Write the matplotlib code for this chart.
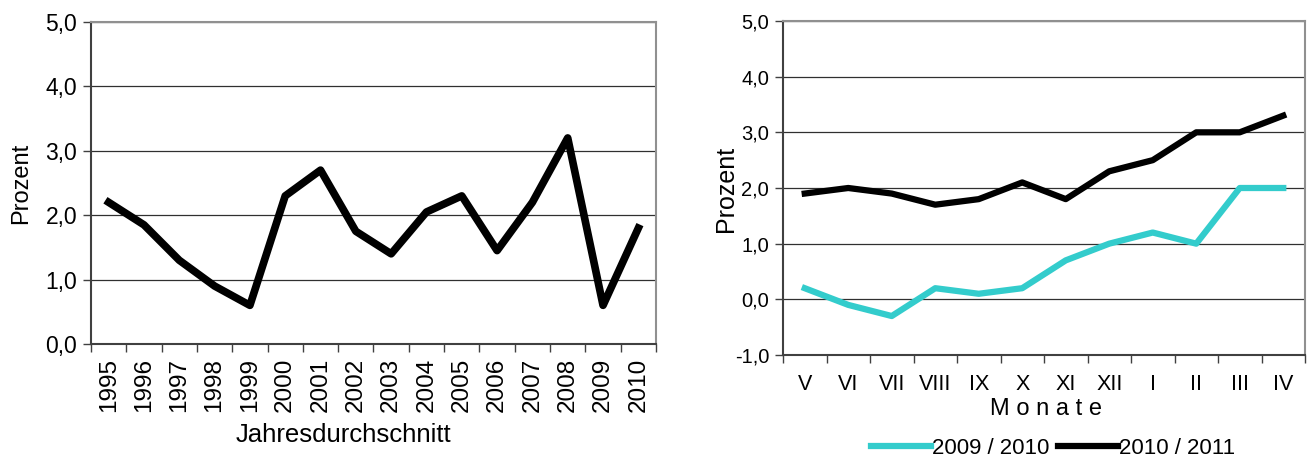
import numpy as np
import matplotlib
matplotlib.use("Agg")
from matplotlib import pyplot as plt

plt.rcParams['font.family'] = ['Liberation Sans', 'DejaVu Sans']

# Daten links: Jahresdurchschnitt
jahre = ['1995', '1996', '1997', '1998', '1999', '2000', '2001', '2002',
         '2003', '2004', '2005', '2006', '2007', '2008', '2009', '2010']
jahreswerte = [2.2, 1.85, 1.3, 0.9, 0.6, 2.3, 2.7, 1.75,
               1.4, 2.05, 2.3, 1.45, 2.2, 3.2, 0.6, 1.8]

# Daten rechts: Monate
monate = ['V', 'VI', 'VII', 'VIII', 'IX', 'X', 'XI', 'XII', 'I', 'II', 'III', 'IV']
werte_0910 = [0.2, -0.1, -0.3, 0.2, 0.1, 0.2, 0.7, 1.0, 1.2, 1.0, 2.0, 2.0]
werte_1011 = [1.9, 2.0, 1.9, 1.7, 1.8, 2.1, 1.8, 2.3, 2.5, 3.0, 3.0, 3.3]
serien = ['2009 / 2010', '2010 / 2011']

W, H = 1308, 459
fig = plt.figure(figsize=(W / 100, H / 100), dpi=100)


def style_axes(ax, n, ymin, ymax):
    ax.set_xlim(-0.5, n - 0.5)
    ax.set_ylim(ymin, ymax)
    ax.set_xticks(np.arange(n + 1) - 0.5)
    ax.set_xticklabels([])
    ax.set_xticks(np.arange(n), minor=True)
    ax.tick_params(axis='x', which='major', direction='out', length=6, width=1, color='#404040')
    ax.tick_params(axis='x', which='minor', length=0)
    ax.tick_params(axis='y', direction='out', length=6, width=1, color='#404040')
    ax.set_yticks(np.arange(ymin, ymax + 0.01, 1.0))
    ax.set_yticklabels([('%.1f' % v).replace('.', ',') for v in np.arange(ymin, ymax + 0.01, 1.0)])
    ax.yaxis.grid(True, color='#303030', lw=0.9)
    ax.set_axisbelow(True)
    for s in ['left', 'bottom']:
        ax.spines[s].set_color('#404040')
        ax.spines[s].set_linewidth(1.5)
    for s in ['top', 'right']:
        ax.spines[s].set_color('#909090')
        ax.spines[s].set_linewidth(1.5)


# Linkes Diagramm
ax1 = fig.add_axes([91 / W, 1 - 344 / H, 565 / W, 322 / H])
ax1.plot(np.arange(len(jahre)), jahreswerte, color='black', lw=5.5)
style_axes(ax1, len(jahre), 0, 5)
ax1.set_xticks(np.arange(len(jahre)), jahre, minor=True, rotation=90, fontsize=17.5)
ax1.tick_params(axis='x', which='minor', pad=10)
ax1.tick_params(axis='y', labelsize=16.5, pad=4)
ax1.set_ylabel('Prozent', fontsize=17)
ax1.yaxis.set_label_coords(32 / W, 1 - 183 / H, transform=fig.transFigure)
fig.text(343 / W, 1 - 435 / H, 'Jahresdurchschnitt', ha='center', va='center', fontsize=18.5)

# Rechtes Diagramm
ax2 = fig.add_axes([783 / W, 1 - 355 / H, 522 / W, 334 / H])
x2 = np.arange(len(monate))
ax2.plot(x2, werte_0910, color='#33CCCC', lw=4.5, label=serien[0])
ax2.plot(x2, werte_1011, color='black', lw=4.5, label=serien[1])
style_axes(ax2, len(monate), -1, 5)
ax2.set_xticks(x2, monate, minor=True, fontsize=15.5)
ax2.tick_params(axis='x', which='minor', pad=14)
ax2.tick_params(axis='y', labelsize=14.5, pad=4)
ax2.set_ylabel('Prozent', fontsize=18)
ax2.yaxis.set_label_coords(738 / W, 1 - 189 / H, transform=fig.transFigure)
fig.text(1046 / W, 1 - 409 / H, 'M o n a t e', ha='center', va='center', fontsize=17)
ax2.legend(loc='center', bbox_to_anchor=(1053 / W, 1 - 448 / H), bbox_transform=fig.transFigure,
           ncol=2, frameon=False, fontsize=16, handlelength=2.7, handletextpad=0.05,
           columnspacing=0.4, borderaxespad=0, borderpad=0)

fig.savefig('out.png', dpi=100)
